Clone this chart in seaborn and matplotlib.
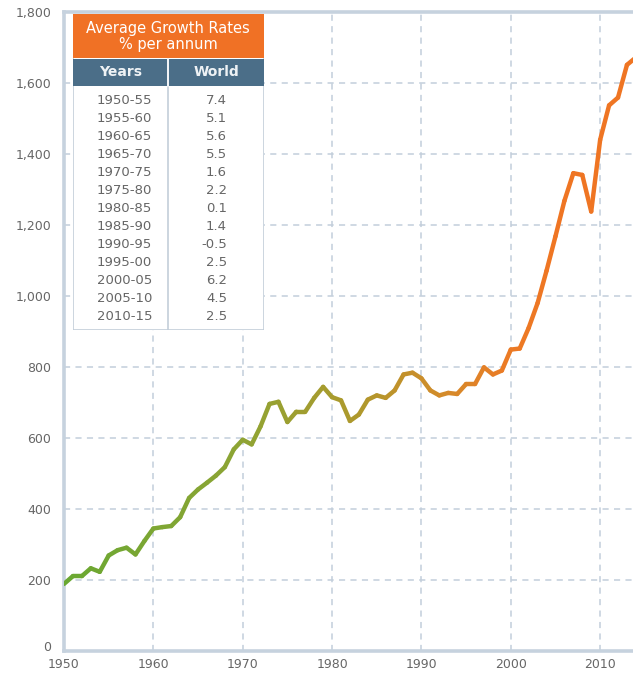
import numpy as np
import pandas as pd
import matplotlib
matplotlib.use("Agg")
import matplotlib.pyplot as plt
import matplotlib.transforms as mtransforms
import seaborn as sns
from matplotlib.colors import LinearSegmentedColormap, to_hex
from matplotlib.patches import Rectangle

# ---------------- data ----------------
years = list(range(1950, 2015))
values = [189, 211, 211, 233, 223, 269, 284, 291, 272, 310,
          345, 349, 352, 377, 431, 455, 474, 494, 518, 568,
          595, 582, 633, 696, 702, 645, 674, 674, 713, 744,
          715, 706, 648, 666, 708, 720, 713, 734, 779, 784,
          768, 734, 720, 727, 724, 752, 752, 799, 779, 790,
          849, 852, 910, 980, 1071, 1168, 1268, 1346, 1341, 1238,
          1440, 1537, 1559, 1651, 1672]

table_title = ["Average Growth Rates", "% per annum"]
table_cols = ["Years", "World"]
table_periods = ["1950-55", "1955-60", "1960-65", "1965-70", "1970-75", "1975-80",
                 "1980-85", "1985-90", "1990-95", "1995-00", "2000-05", "2005-10",
                 "2010-15"]
table_rates = ["7.4", "5.1", "5.6", "5.5", "1.6", "2.2", "0.1", "1.4", "-0.5",
               "2.5", "6.2", "4.5", "2.5"]

yticks = [0, 200, 400, 600, 800, 1000, 1200, 1400, 1600, 1800]
xticks = [1950, 1960, 1970, 1980, 1990, 2000, 2010]

# ---------------- style ----------------
sns.set_style("white")
plt.rcParams['font.family'] = ['DejaVu Sans']

W, H = 633, 673
fig = plt.figure(figsize=(W / 100, H / 100), dpi=100)
ax = fig.add_axes([64 / W, 1 - 651 / H, (W - 64) / W, (651 - 12) / H])

grid_c = "#c2cedb"
spine_c = "#c6d2de"
text_c = "#666666"

# gradient colours along the line
cmap = LinearSegmentedColormap.from_list(
    "g", [(0.0, "#6aa832"), (0.35, "#8ea434"), (0.6, "#b0982c"),
          (0.78, "#d68a2a"), (0.9, "#ec7a25"), (1.0, "#ef7523")])
segs = []
pal = {}
for i in range(len(years) - 1):
    key = f"s{i}"
    t = min(1.0, (years[i] - 1950) / 55.0)
    pal[key] = to_hex(cmap(t))
    segs.append({"year": years[i], "value": values[i], "seg": key})
    segs.append({"year": years[i + 1], "value": values[i + 1], "seg": key})
df = pd.DataFrame(segs)

sns.lineplot(data=df, x="year", y="value", hue="seg", palette=pal,
             legend=False, linewidth=3.2, estimator=None, sort=False,
             ax=ax, solid_capstyle="round", zorder=3)

ax.set_xlim(1950, 1950 + (W - 65) / 8.92)
ax.set_ylim(0, 1800)
ax.set_xticks(xticks)
ax.set_yticks(yticks)
ax.set_yticklabels([f"{v:,}" for v in yticks])
ax.set_xlabel("")
ax.set_ylabel("")
ax.tick_params(axis="both", length=0, labelsize=9, colors=text_c)
ax.tick_params(axis="y", pad=9)
ax.tick_params(axis="x", pad=5)

# lift the "0" label slightly, as in the reference
zero_lbl = ax.get_yticklabels()[0]
zero_lbl.set_transform(zero_lbl.get_transform() +
                       mtransforms.ScaledTranslation(0, 5 / 100, fig.dpi_scale_trans))

ax.grid(True, which="major", color=grid_c, linestyle=(0, (4, 3.5)), linewidth=1.1)
ax.set_axisbelow(True)

for s in ["left", "bottom", "top"]:
    ax.spines[s].set_visible(True)
    ax.spines[s].set_color(spine_c)
    ax.spines[s].set_linewidth(2.6)
ax.spines["right"].set_visible(False)

# ---------------- table (pixel coords) ----------------
tx0, tx1, ty0, ty1 = 73, 264, 14, 330
tax = fig.add_axes([tx0 / W, 1 - ty1 / H, (tx1 - tx0) / W, (ty1 - ty0) / H])
tax.set_xlim(tx0, tx1)
tax.set_ylim(ty1, ty0)
tax.axis("off")
tax.set_zorder(5)

tax.add_patch(Rectangle((tx0, ty0), tx1 - tx0, ty1 - ty0, facecolor="white",
                        edgecolor="#c3ced9", linewidth=1.2))
tax.add_patch(Rectangle((tx0, ty0), tx1 - tx0, 44, facecolor="#f07125",
                        edgecolor="none"))
tax.add_patch(Rectangle((tx0, 59), tx1 - tx0, 27, facecolor="#4b6e88",
                        edgecolor="none"))
tax.plot([168, 168], [59, ty1], color="#c3ced9", linewidth=1.2)
tax.plot([168, 168], [59, 86], color="white", linewidth=1.2)

tax.text(168, 29, table_title[0], color="white", fontsize=10.5,
         ha="center", va="center")
tax.text(168, 44, table_title[1], color="white", fontsize=10.5,
         ha="center", va="center")
tax.text(121, 72, table_cols[0], color="#eef2f5", fontsize=10,
         ha="center", va="center", fontweight="bold")
tax.text(216, 72, table_cols[1], color="#eef2f5", fontsize=10,
         ha="center", va="center", fontweight="bold")

for i, (p, r) in enumerate(zip(table_periods, table_rates)):
    yy = 100 + i * 18.05
    tax.text(152, yy, p, color=text_c, fontsize=9.5, ha="right", va="center")
    tax.text(227, yy, r, color=text_c, fontsize=9.5, ha="right", va="center")

fig.savefig("out.png", dpi=100)
